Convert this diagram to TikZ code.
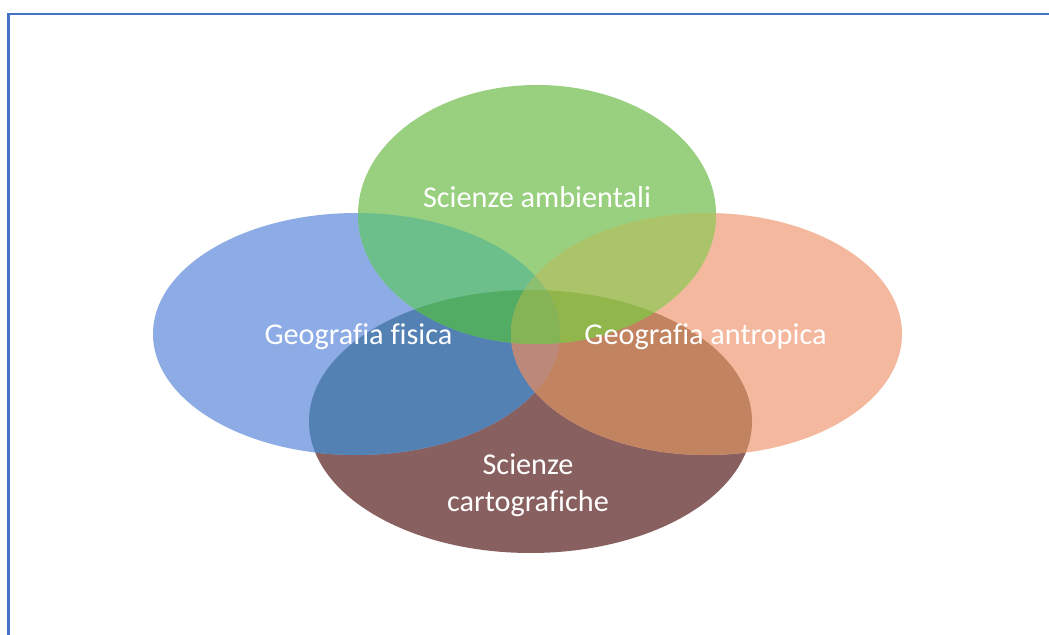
\documentclass[tikz,border=0pt]{standalone}
\usepackage{fontspec}
\setmainfont{Carlito}[Ligatures=NoCommon]
\usepackage{tikz}
\usetikzlibrary{positioning}

\definecolor{framecol}{RGB}{68,114,196}
% plain areas
\definecolor{ambcol}{RGB}{153,208,128}
\definecolor{fiscol}{RGB}{141,171,229}
\definecolor{antcol}{RGB}{244,184,158}
\definecolor{cartcol}{RGB}{137,96,96}
% overlaps
\definecolor{fiscart}{RGB}{84,129,180}
\definecolor{antcart}{RGB}{193,131,96}
\definecolor{ambfis}{RGB}{108,190,138}
\definecolor{ambant}{RGB}{172,196,105}
\definecolor{ambcart}{RGB}{96,176,96}
\definecolor{fisant}{RGB}{190,150,140}
\definecolor{ambfiscart}{RGB}{82,172,100}
\definecolor{ambantcart}{RGB}{145,182,75}
\definecolor{fisantcart}{RGB}{188,136,122}
\definecolor{ambfisant}{RGB}{138,192,112}
\definecolor{allcol}{RGB}{132,180,85}

\newcommand{\ambpath}{(537,214.5) ellipse [x radius=179,y radius=129.5]}
\newcommand{\fispath}{(356.5,334) ellipse [x radius=203.5,y radius=121]}
\newcommand{\antpath}{(706.5,334) ellipse [x radius=195.5,y radius=121]}
\newcommand{\cartpath}{(530.5,421.5) ellipse [x radius=221.5,y radius=131.5]}

\begin{document}
\begin{tikzpicture}[
    x=0.025cm,y=-0.025cm,
    every node/.style={font=\fontsize{21.5}{26.3}\selectfont},
    lbl/.style={text=white,anchor=base,align=center}
]
\clip (0,0) rectangle (1049,635);
\fill[white] (0,0) rectangle (1049,635);
\draw[framecol,line width=0.05cm] (8.5,14.5) rectangle (1070,660);
% single areas
\fill[cartcol] \cartpath;
\fill[fiscol] \fispath;
\fill[antcol] \antpath;
\fill[ambcol] \ambpath;
% two at a time
\begin{scope} \clip \cartpath; \fill[fiscart] \fispath; \fill[antcart] \antpath; \fill[ambcart] \ambpath; \end{scope}
\begin{scope} \clip \ambpath; \fill[ambfis] \fispath; \fill[ambant] \antpath; \end{scope}
\begin{scope} \clip \fispath; \fill[fisant] \antpath; \end{scope}
% three at a time
\begin{scope} \clip \cartpath; \clip \ambpath; \fill[ambfiscart] \fispath; \fill[ambantcart] \antpath; \end{scope}
\begin{scope} \clip \cartpath; \clip \fispath; \fill[fisantcart] \antpath; \end{scope}
\begin{scope} \clip \ambpath; \clip \fispath; \fill[ambfisant] \antpath; \end{scope}
% all four
\begin{scope} \clip \cartpath; \clip \ambpath; \clip \fispath; \fill[allcol] \antpath; \end{scope}
% labels
\node[lbl] (ambtext) at (537,207.5) {Scienze ambientali};
\node[lbl] (fistext) at (358.5,344) {Geografia fisica};
\node[lbl] (anttext) at (705.5,344) {Geografia antropica};
\node[lbl] (carttext) at (528,511) {Scienze\\cartografiche};
\end{tikzpicture}
\end{document}
